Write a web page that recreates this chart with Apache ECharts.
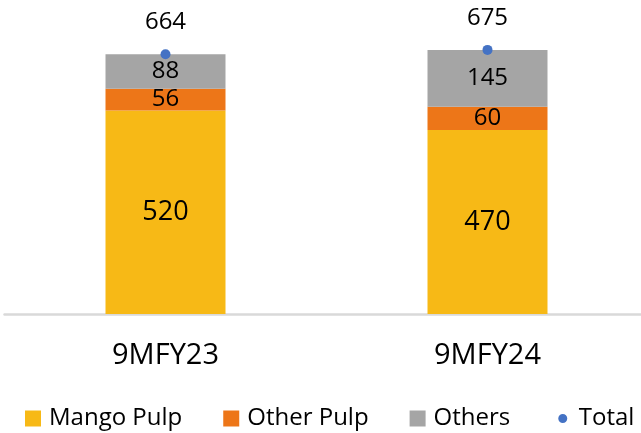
<!DOCTYPE html>
<html>
<head>
<meta charset="utf-8">
<script src="https://cdn.jsdelivr.net/npm/echarts@6/dist/echarts.min.js"></script>
<style>html,body{margin:0;padding:0;background:#fff}#c{width:641px;height:433px}</style>
</head>
<body>
<div id="c"></div>
<script>
var categories = ['9MFY23', '9MFY24'];
var mangoPulp = [520, 470];
var otherPulp = [56, 60];
var others = [88, 145];
var total = [664, 675];

var FONT = 'Open Sans';
var chart = echarts.init(document.getElementById('c'), null, {renderer: 'canvas'});
chart.setOption({
  animation: false,
  textStyle: {fontFamily: FONT},
  grid: {left: 4.5, width: 644, top: 1, bottom: 119, containLabel: false, outerBoundsMode: 'none'},
  xAxis: {
    type: 'category',
    data: categories,
    axisLine: {lineStyle: {color: '#d9d9d9', width: 2.5}},
    axisTick: {show: false},
    axisLabel: {fontSize: 29, color: '#000', fontFamily: FONT, margin: 27}
  },
  yAxis: {type: 'value', min: 0, max: 800, show: false, splitLine: {show: false}},
  legend: {
    left: 25, top: 406, width: 800, itemWidth: 16, itemHeight: 16, itemGap: 41,
    padding: 0,
    textStyle: {fontSize: 24, lineHeight: 25, color: '#000', fontFamily: FONT, padding: [0, 0, 0, 3]},
    data: [
      {name: 'Mango Pulp', icon: 'rect'},
      {name: 'Other Pulp', icon: 'rect'},
      {name: 'Others', icon: 'rect'},
      {name: 'Total', icon: 'circle', itemStyle: {borderColor: '#fff', borderWidth: 7, opacity: 1}}
    ]
  },
  series: [
    {name: 'Mango Pulp', type: 'bar', stack: 's', barWidth: 120, data: mangoPulp,
     itemStyle: {color: '#F7B916'},
     label: {show: true, position: 'inside', fontSize: 27, color: '#000', fontFamily: FONT}},
    {name: 'Other Pulp', type: 'bar', stack: 's', barWidth: 120, data: otherPulp,
     itemStyle: {color: '#ED7618'},
     label: {show: true, position: 'inside', fontSize: 24, color: '#000', fontFamily: FONT}},
    {name: 'Others', type: 'bar', stack: 's', barWidth: 120, data: others,
     itemStyle: {color: '#A5A5A5'},
     label: {show: true, position: 'inside', fontSize: 24, color: '#000', fontFamily: FONT}},
    {name: 'Total', type: 'scatter', data: total, symbol: 'circle', symbolSize: 10, z: 10,
     itemStyle: {color: '#4472C4', opacity: 1},
     label: {show: true, position: 'inside', offset: [0, -32], fontSize: 24, color: '#000', fontFamily: FONT}}
  ]
});
</script>
</body>
</html>
